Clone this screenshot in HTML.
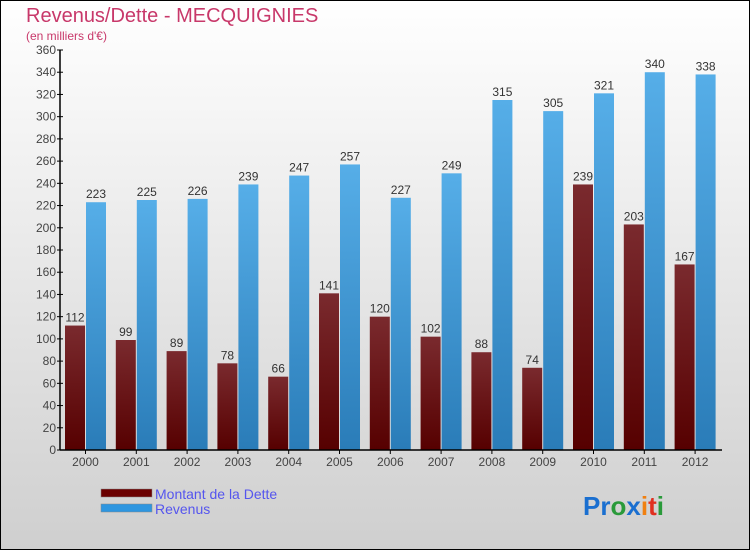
<!DOCTYPE html>
<html><head><meta charset="utf-8"><style>
html,body{margin:0;padding:0}
body{width:750px;height:550px;overflow:hidden;font-family:"Liberation Sans",sans-serif}
</style></head><body>
<svg width="750" height="550" xmlns="http://www.w3.org/2000/svg" font-family="Liberation Sans, sans-serif">
<defs>
<linearGradient id="bg" x1="0" y1="0" x2="0" y2="1"><stop offset="0" stop-color="#ffffff"/><stop offset="1" stop-color="#cfcfcf"/></linearGradient>
<linearGradient id="gd" x1="0" y1="0" x2="0" y2="1"><stop offset="0" stop-color="#7a2a2e"/><stop offset="1" stop-color="#560000"/></linearGradient>
<linearGradient id="gr" x1="0" y1="0" x2="0" y2="1"><stop offset="0" stop-color="#56aee8"/><stop offset="1" stop-color="#2a7cb8"/></linearGradient>
</defs>
<rect x="0.5" y="0.5" width="749" height="549" fill="url(#bg)" stroke="#000"/>
<text x="26" y="22" font-size="20" fill="#c8386a">Revenus/Dette - MECQUIGNIES</text>
<text x="26" y="40" font-size="12" fill="#c8386a">(en milliers d'€)</text>
<g id="plot"></g>
<g>
<rect x="101" y="489" width="51" height="8" fill="#6b0000" stroke="#888" stroke-width="0.5"/>
<text x="155" y="499" font-size="14" fill="#5555ee">Montant de la Dette</text>
<rect x="101" y="504" width="51" height="8" fill="#2e96e0" stroke="#888" stroke-width="0.5"/>
<text x="155" y="514" font-size="14" fill="#5555ee">Revenus</text>
</g>
<text x="583" y="515" font-size="26" font-weight="bold"><tspan fill="#1a6fd0">Pr</tspan><tspan fill="#2a9a3a">o</tspan><tspan fill="#1a6fd0">x</tspan><tspan fill="#f08010">i</tspan><tspan fill="#e03020">t</tspan><tspan fill="#2a9a3a">i</tspan></text>
</svg>
<script>
const years=["2000","2001","2002","2003","2004","2005","2006","2007","2008","2009","2010","2011","2012"];
const dette=[112,99,89,78,66,141,120,102,88,74,239,203,167];
const revenus=[223,225,226,239,247,257,227,249,315,305,321,340,338];
const yTicks=[0,20,40,60,80,100,120,140,160,180,200,220,240,260,280,300,320,340,360];
const NS="http://www.w3.org/2000/svg";
const g=document.getElementById('plot');
const x0=60,y0=450,yTop=50,yMax=360,step=50.8;
const y=v=>y0-(v/yMax)*(y0-yTop);
function mk(t,a,txt){const e=document.createElementNS(NS,t);for(const k in a)e.setAttribute(k,a[k]);if(txt!==undefined)e.textContent=txt;g.appendChild(e);return e;}
yTicks.forEach(v=>{
 const l=mk('line',{x1:x0-3,x2:x0+3,y1:y(v),y2:y(v),stroke:'#000'});
 
 
 const t=mk('text',{x:x0-4,y:y(v)+4,'font-size':12,fill:'#444','text-anchor':'end'},v);
 
 
});
years.forEach((yr,i)=>{
 const gx=x0+5+i*step;
 const b1=mk('rect',{x:gx,y:y(dette[i]),width:20,height:y0-y(dette[i]),fill:'url(#gd)'});
 
 
 const b2=mk('rect',{x:gx+21,y:y(revenus[i]),width:20,height:y0-y(revenus[i]),fill:'url(#gr)'});
 
 
 const l1=mk('text',{x:gx+10,y:y(dette[i])-4,'font-size':12,fill:'#333','text-anchor':'middle'},dette[i]);
 
 
 const l2=mk('text',{x:gx+31,y:y(revenus[i])-4,'font-size':12,fill:'#333','text-anchor':'middle'},revenus[i]);
 
 
 const tk=mk('line',{x1:gx+20.5,x2:gx+20.5,y1:y0,y2:y0+4,stroke:'#000'});
 
 
 const xl=mk('text',{x:gx+20.5,y:y0+16,'font-size':12,fill:'#444','text-anchor':'middle'},yr);
 
 
});
const ya=mk('line',{x1:x0,x2:x0,y1:yTop,y2:y0,stroke:'#000','stroke-width':1.5});


const xa=mk('line',{x1:x0,x2:722,y1:y0,y2:y0,stroke:'#000','stroke-width':1.5});


</script>
</body></html>
